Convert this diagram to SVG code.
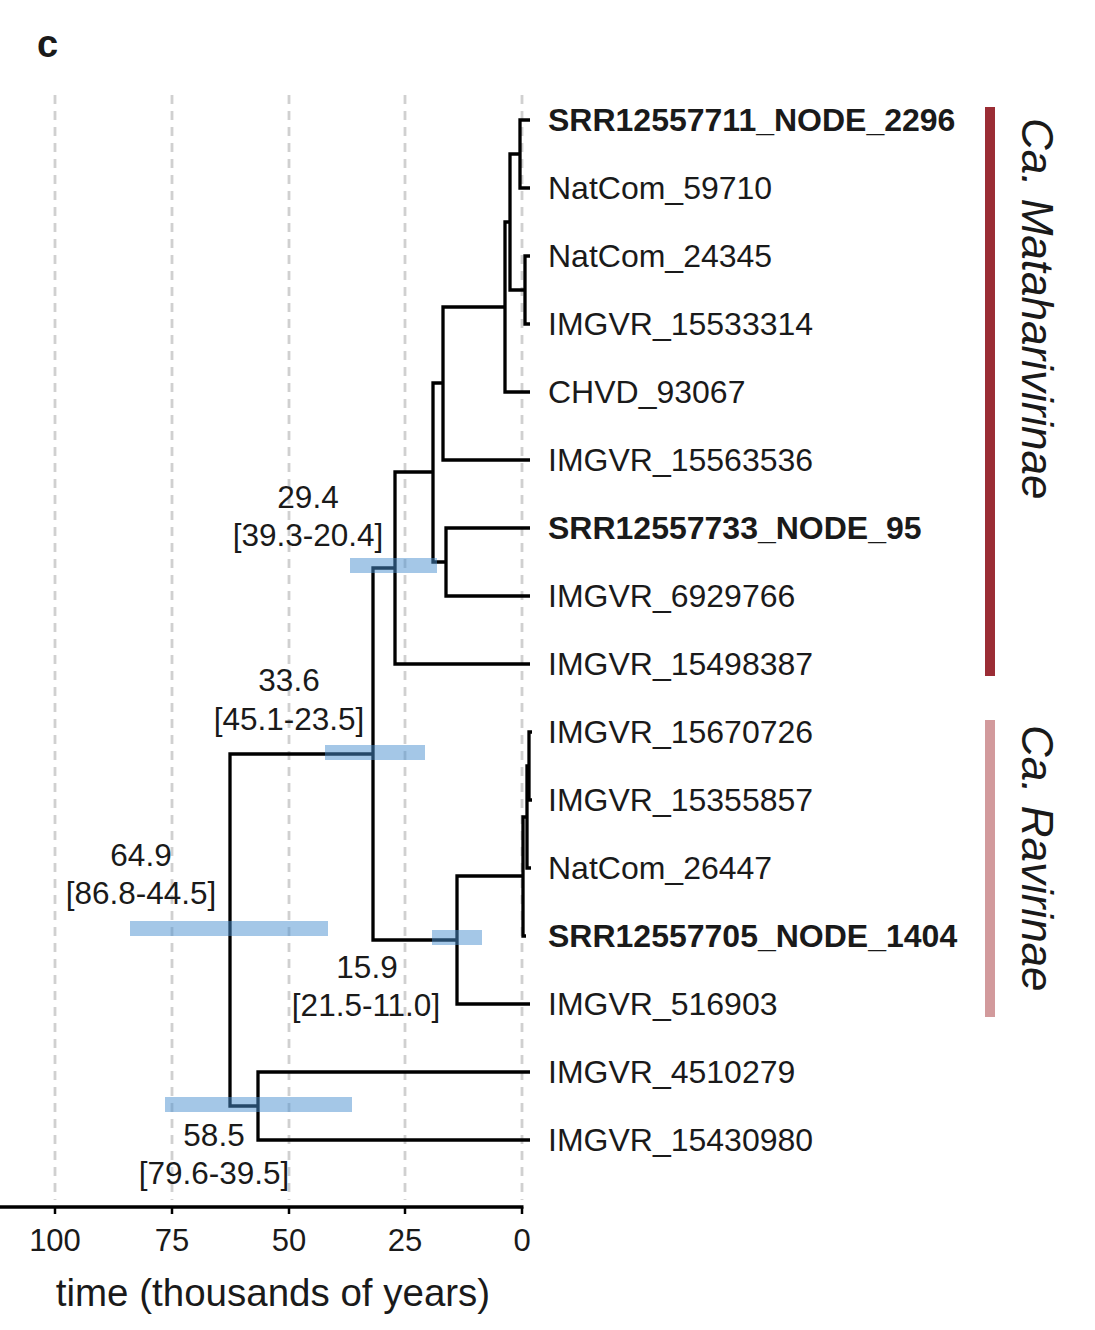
<svg xmlns="http://www.w3.org/2000/svg" width="1095" height="1330" viewBox="0 0 1095 1330">
<style>
text{font-family:"Liberation Sans",Arial,sans-serif;fill:#1a1a1a}
.tip{font-size:32px}
.b{font-weight:bold}
.nl{font-size:31.5px;text-anchor:middle}
.tk{font-size:31px;text-anchor:middle}
.grid{stroke:#d0d0d0;stroke-width:2.8;stroke-dasharray:9 7}
.br{fill:none;stroke:#000;stroke-width:3.3}
.hpd{fill:#4a90d0;opacity:0.5}
.clade{font-size:44px;font-style:italic}
</style>
<rect width="1095" height="1330" fill="#fff"/>
<text x="37" y="57" class="b" style="font-size:38px">c</text>
<g id="grid">
<line class="grid" x1="55" y1="95" x2="55" y2="1200"/>
<line class="grid" x1="172" y1="95" x2="172" y2="1200"/>
<line class="grid" x1="289" y1="95" x2="289" y2="1200"/>
<line class="grid" x1="405" y1="95" x2="405" y2="1200"/>
<line class="grid" x1="522" y1="95" x2="522" y2="1200"/>
</g>
<g id="connectors">
<path class="br" d="M530 120 H520 V188 H530"/>
<path class="br" d="M530 256 H525 V324 H530"/>
<path class="br" d="M520 154 H510 V290 H525"/>
<path class="br" d="M510 222 H505 V392 H530"/>
<path class="br" d="M505 307 H443 V460 H530"/>
<path class="br" d="M530 528 H446 V596 H530"/>
<path class="br" d="M443 383 H433 V562 H446"/>
<path class="br" d="M433 472 H395 V664 H530"/>
<path class="br" d="M395 568 H373 V940 H457"/>
<path class="br" d="M532 732 H529 V800 H532"/>
<path class="br" d="M529 766 H527 V868 H531"/>
<path class="br" d="M527 817 H523 V936 H526"/>
<path class="br" d="M523 876 H457 V1004 H530"/>
<path class="br" d="M373 754 H230 V1106 H258"/>
<path class="br" d="M530 1072 H258 V1140 H530"/>
</g>
<g id="node-29-4">
<rect class="hpd" x="350" y="558" width="87" height="15"/>
<text class="nl" x="308" y="508">29.4</text>
<text class="nl" x="308" y="546">[39.3-20.4]</text>
</g>
<g id="node-33-6">
<rect class="hpd" x="325" y="745" width="100" height="15"/>
<text class="nl" x="289" y="691">33.6</text>
<text class="nl" x="289" y="730">[45.1-23.5]</text>
</g>
<g id="node-64-9">
<rect class="hpd" x="130" y="921" width="198" height="15"/>
<text class="nl" x="141" y="866">64.9</text>
<text class="nl" x="141" y="904">[86.8-44.5]</text>
</g>
<g id="node-15-9">
<rect class="hpd" x="432" y="930" width="50" height="15"/>
<text class="nl" x="367" y="978">15.9</text>
<text class="nl" x="366" y="1016">[21.5-11.0]</text>
</g>
<g id="node-58-5">
<rect class="hpd" x="165" y="1097" width="187" height="15"/>
<text class="nl" x="214" y="1146">58.5</text>
<text class="nl" x="214" y="1184">[79.6-39.5]</text>
</g>
<g id="tips">
<g id="tip-SRR12557711_NODE_2296"><text class="tip b" x="548" y="131">SRR12557711_NODE_2296</text></g>
<g id="tip-NatCom_59710"><text class="tip" x="548" y="199">NatCom_59710</text></g>
<g id="tip-NatCom_24345"><text class="tip" x="548" y="267">NatCom_24345</text></g>
<g id="tip-IMGVR_15533314"><text class="tip" x="548" y="335">IMGVR_15533314</text></g>
<g id="tip-CHVD_93067"><text class="tip" x="548" y="403">CHVD_93067</text></g>
<g id="tip-IMGVR_15563536"><text class="tip" x="548" y="471">IMGVR_15563536</text></g>
<g id="tip-SRR12557733_NODE_95"><text class="tip b" x="548" y="539">SRR12557733_NODE_95</text></g>
<g id="tip-IMGVR_6929766"><text class="tip" x="548" y="607">IMGVR_6929766</text></g>
<g id="tip-IMGVR_15498387"><text class="tip" x="548" y="675">IMGVR_15498387</text></g>
<g id="tip-IMGVR_15670726"><text class="tip" x="548" y="743">IMGVR_15670726</text></g>
<g id="tip-IMGVR_15355857"><text class="tip" x="548" y="811">IMGVR_15355857</text></g>
<g id="tip-NatCom_26447"><text class="tip" x="548" y="879">NatCom_26447</text></g>
<g id="tip-SRR12557705_NODE_1404"><text class="tip b" x="548" y="947">SRR12557705_NODE_1404</text></g>
<g id="tip-IMGVR_516903"><text class="tip" x="548" y="1015">IMGVR_516903</text></g>
<g id="tip-IMGVR_4510279"><text class="tip" x="548" y="1083">IMGVR_4510279</text></g>
<g id="tip-IMGVR_15430980"><text class="tip" x="548" y="1151">IMGVR_15430980</text></g>
</g>
<g id="clade-mataharivirinae">
<rect x="985" y="107" width="10" height="569" fill="#9b2d35"/>
<text class="clade" transform="translate(1022,118) rotate(90)">Ca. Mataharivirinae</text>
</g>
<g id="clade-ravirinae">
<rect x="985" y="720" width="10" height="297" fill="#d29a9c"/>
<text class="clade" transform="translate(1022,725) rotate(90)">Ca. Ravirinae</text>
</g>
<g id="axis">
<line x1="0" y1="1207" x2="523.5" y2="1207" stroke="#000" stroke-width="3.3"/>
<g stroke="#000" stroke-width="2.5">
<line x1="55" y1="1207" x2="55" y2="1214"/>
<line x1="172" y1="1207" x2="172" y2="1214"/>
<line x1="289" y1="1207" x2="289" y2="1214"/>
<line x1="405" y1="1207" x2="405" y2="1214"/>
<line x1="522" y1="1207" x2="522" y2="1214"/>
</g>
<text class="tk" x="55" y="1251">100</text>
<text class="tk" x="172" y="1251">75</text>
<text class="tk" x="289" y="1251">50</text>
<text class="tk" x="405" y="1251">25</text>
<text class="tk" x="522" y="1251">0</text>
<text x="273" y="1306" style="font-size:38.5px;text-anchor:middle">time (thousands of years)</text>
</g>
</svg>
